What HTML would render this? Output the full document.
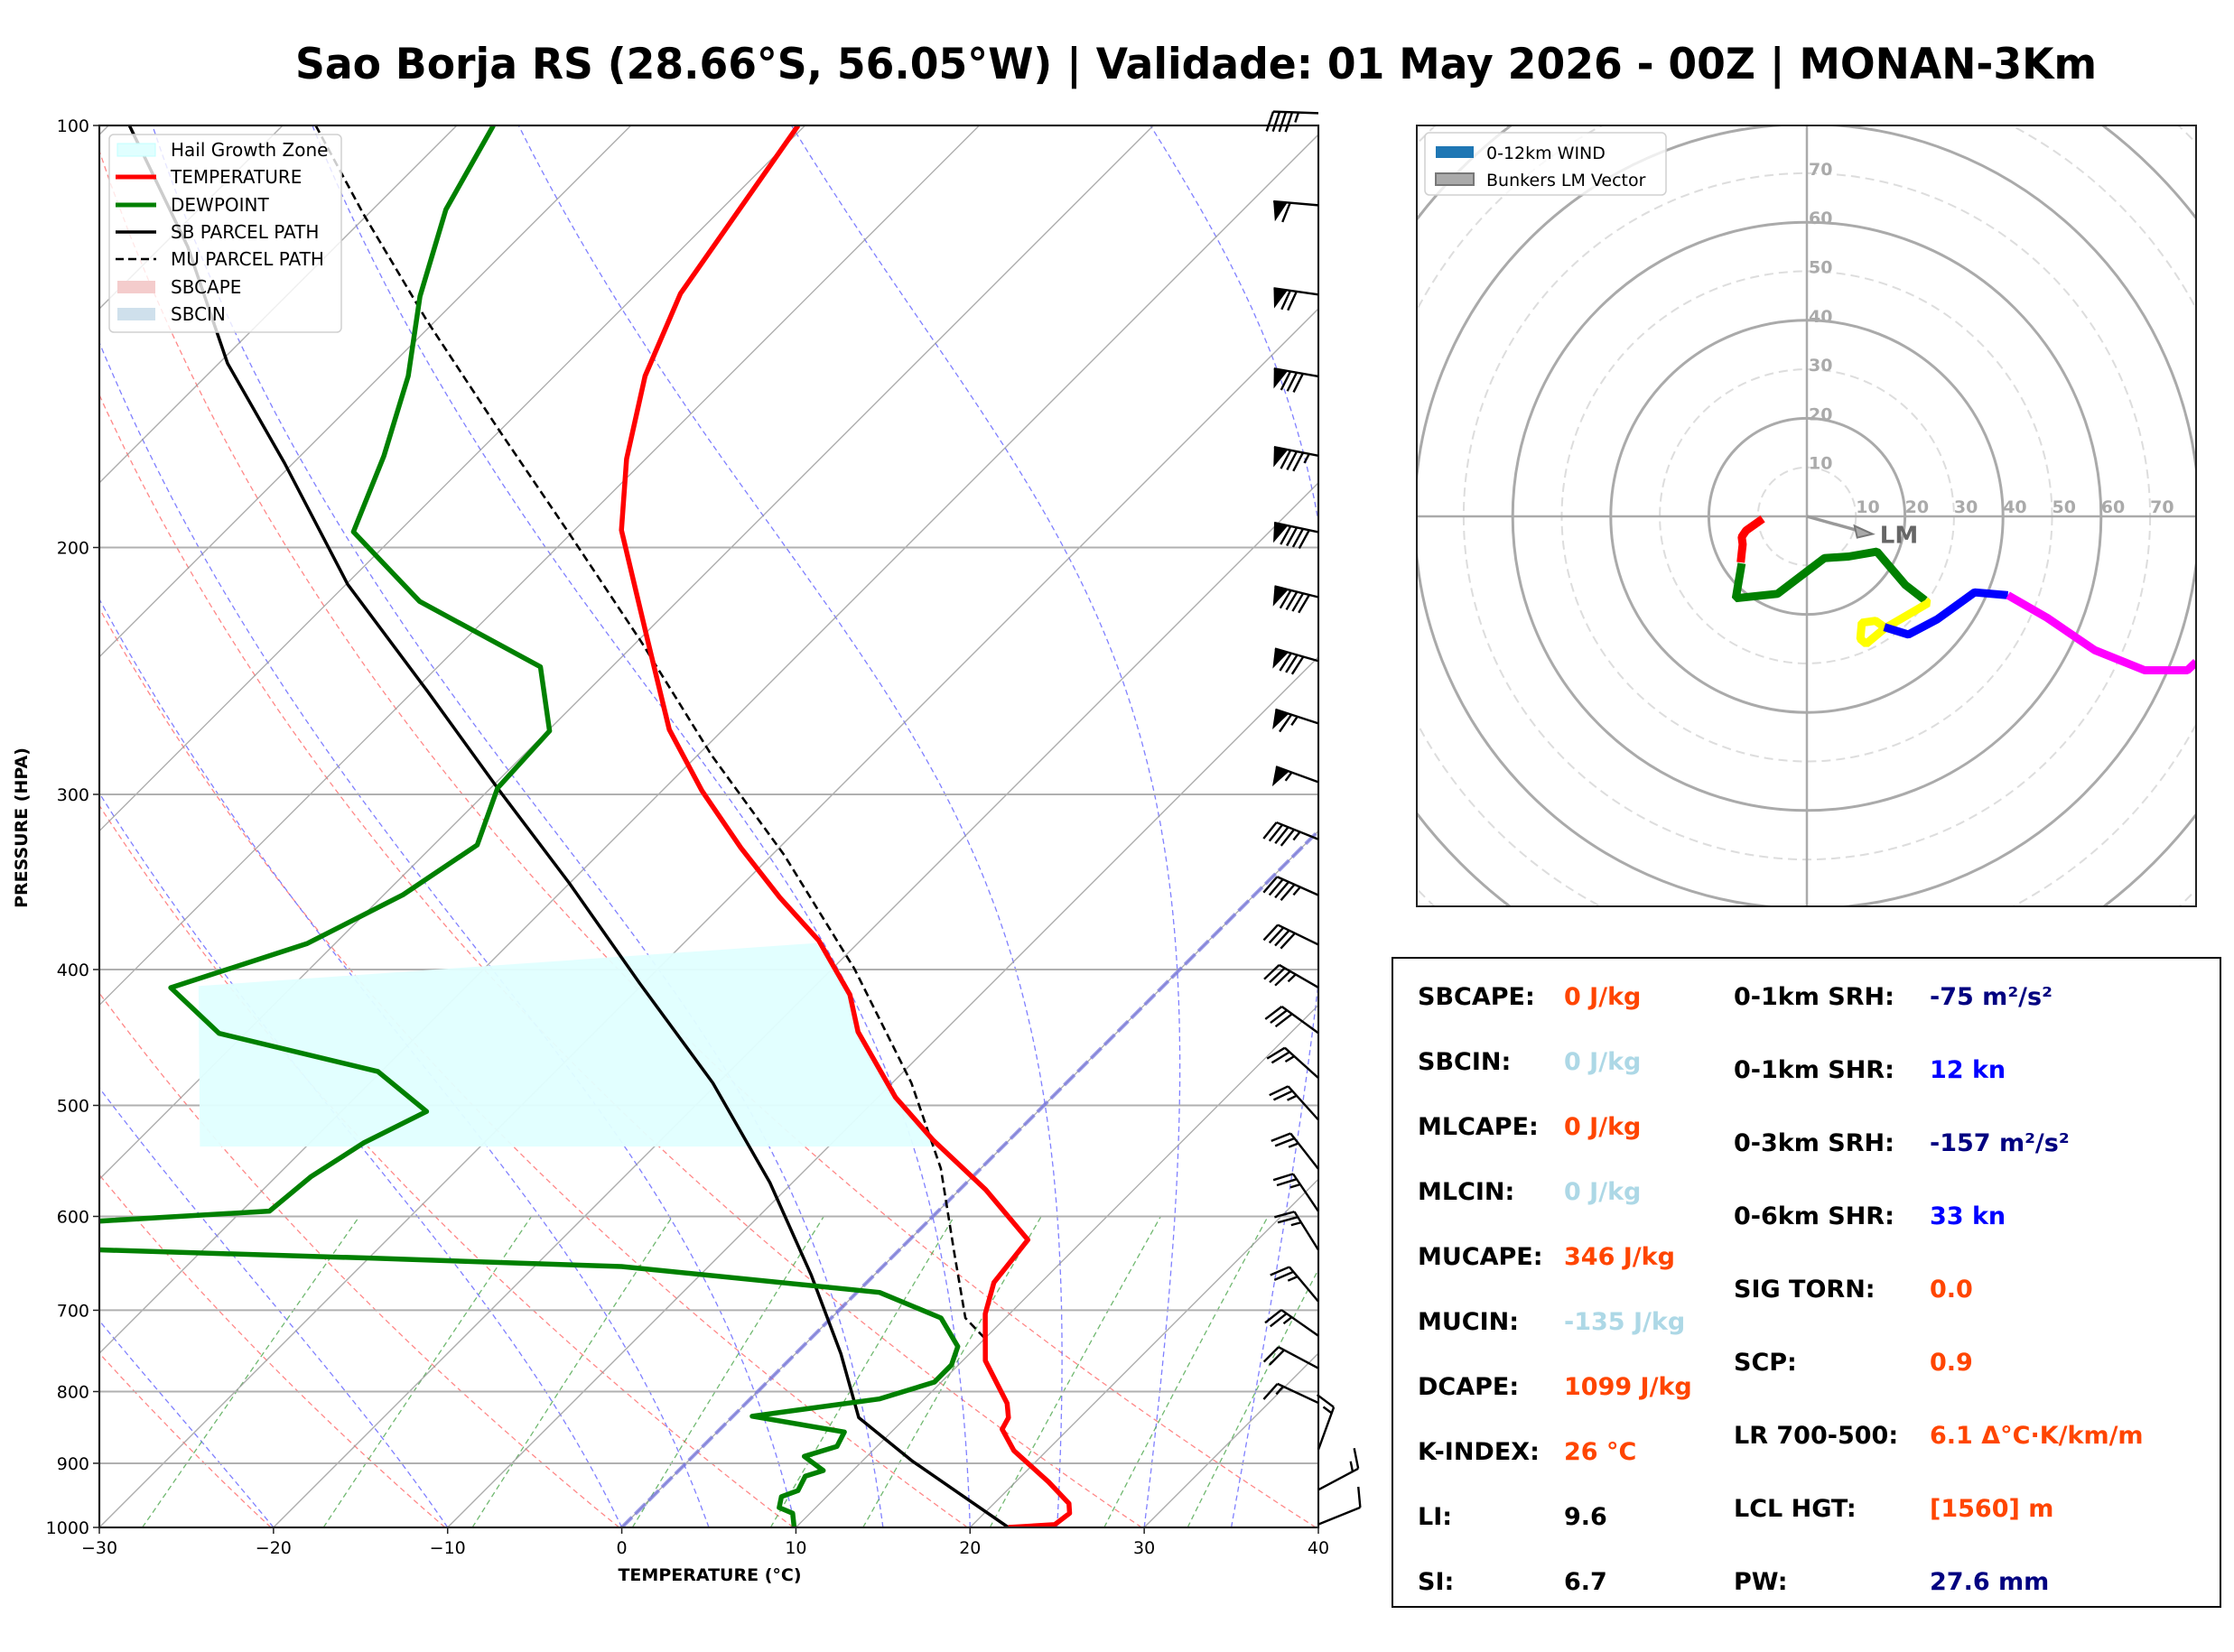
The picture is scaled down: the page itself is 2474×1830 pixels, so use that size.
<!DOCTYPE html>
<html><head><meta charset="utf-8"><style>
html,body{margin:0;padding:0;background:#fff;}
svg{display:block;font-family:"DejaVu Sans","Liberation Sans",sans-serif;}
</style></head><body>
<svg id="fig" xmlns="http://www.w3.org/2000/svg" width="2474" height="1830" viewBox="0 0 2474 1830">
<rect width="2474" height="1830" fill="#fff"/>
<text x="327" y="87" font-size="47" font-weight="bold" textLength="1995" lengthAdjust="spacingAndGlyphs">Sao Borja RS (28.66°S, 56.05°W) | Validade: 01 May 2026 - 00Z | MONAN-3Km</text>
<defs>
<clipPath id="skewClip"><rect x="110" y="139" width="1350" height="1553"/></clipPath>
<clipPath id="hodoClip"><rect x="1569" y="139" width="863" height="865"/></clipPath>
</defs>
<g id="skewBg" clip-path="url(#skewClip)"></g>
<g id="skewData" clip-path="url(#skewClip)"></g>
<g id="skewAxes"></g>
<g id="barbs"></g>
<g id="hodoBg" clip-path="url(#hodoClip)"></g>
<g id="hodoData" clip-path="url(#hodoClip)"></g>
<rect x="1569" y="139" width="863" height="865" fill="none" stroke="#222" stroke-width="2"/>

<g>
<rect x="121" y="149" width="257" height="219" rx="5" fill="#fff" fill-opacity="0.8" stroke="#d0d0d0" stroke-width="1.5"/>
<rect x="130" y="159" width="42" height="14" fill="#e0ffff" stroke="#c0ffff"/>
<text x="189" y="173" font-size="20">Hail Growth Zone</text>
<line x1="128" y1="196" x2="173" y2="196" stroke="red" stroke-width="5"/>
<text x="189" y="203" font-size="20">TEMPERATURE</text>
<line x1="128" y1="227" x2="173" y2="227" stroke="green" stroke-width="5"/>
<text x="189" y="234" font-size="20">DEWPOINT</text>
<line x1="128" y1="257" x2="173" y2="257" stroke="#000" stroke-width="3.5"/>
<text x="189" y="264" font-size="20">SB PARCEL PATH</text>
<line x1="128" y1="287" x2="173" y2="287" stroke="#000" stroke-width="2.5" stroke-dasharray="9,5"/>
<text x="189" y="294" font-size="20">MU PARCEL PATH</text>
<rect x="130" y="311" width="42" height="14" fill="#f4cccc"/>
<text x="189" y="325" font-size="20">SBCAPE</text>
<rect x="130" y="341" width="42" height="14" fill="#cfe0ec"/>
<text x="189" y="355" font-size="20">SBCIN</text>
</g>

<g>
<rect x="1578" y="147" width="267" height="69" rx="5" fill="#fff" fill-opacity="0.8" stroke="#d0d0d0" stroke-width="1.5"/>
<rect x="1590" y="162" width="42" height="13" fill="#1f77b4"/>
<text x="1646" y="176" font-size="19">0-12km WIND</text>
<rect x="1590" y="192" width="42" height="13" fill="#aaa" stroke="#777" stroke-width="2"/>
<text x="1646" y="206" font-size="19">Bunkers LM Vector</text>
</g>

<g font-size="27" font-weight="bold">
<rect x="1542" y="1061" width="917" height="719" fill="#fff" stroke="#000" stroke-width="2"/>
<text x="1570" y="1113">SBCAPE:</text><text x="1732" y="1113" fill="#ff4500">0 J/kg</text>
<text x="1570" y="1185">SBCIN:</text><text x="1732" y="1185" fill="#add8e6">0 J/kg</text>
<text x="1570" y="1257">MLCAPE:</text><text x="1732" y="1257" fill="#ff4500">0 J/kg</text>
<text x="1570" y="1329">MLCIN:</text><text x="1732" y="1329" fill="#add8e6">0 J/kg</text>
<text x="1570" y="1401">MUCAPE:</text><text x="1732" y="1401" fill="#ff4500">346 J/kg</text>
<text x="1570" y="1473">MUCIN:</text><text x="1732" y="1473" fill="#add8e6">-135 J/kg</text>
<text x="1570" y="1545">DCAPE:</text><text x="1732" y="1545" fill="#ff4500">1099 J/kg</text>
<text x="1570" y="1617">K-INDEX:</text><text x="1732" y="1617" fill="#ff4500">26 °C</text>
<text x="1570" y="1689">LI:</text><text x="1732" y="1689">9.6</text>
<text x="1570" y="1761">SI:</text><text x="1732" y="1761">6.7</text>
<text x="1920" y="1113">0-1km SRH:</text><text x="2137" y="1113" fill="#000080">-75 m²/s²</text>
<text x="1920" y="1194">0-1km SHR:</text><text x="2137" y="1194" fill="#0000ff">12 kn</text>
<text x="1920" y="1275">0-3km SRH:</text><text x="2137" y="1275" fill="#000080">-157 m²/s²</text>
<text x="1920" y="1356">0-6km SHR:</text><text x="2137" y="1356" fill="#0000ff">33 kn</text>
<text x="1920" y="1437">SIG TORN:</text><text x="2137" y="1437" fill="#ff4500">0.0</text>
<text x="1920" y="1518">SCP:</text><text x="2137" y="1518" fill="#ff4500">0.9</text>
<text x="1920" y="1599">LR 700-500:</text><text x="2137" y="1599" fill="#ff4500">6.1 Δ°C·K/km/m</text>
<text x="1920" y="1680">LCL HGT:</text><text x="2137" y="1680" fill="#ff4500">[1560] m</text>
<text x="1920" y="1761">PW:</text><text x="2137" y="1761" fill="#000080">27.6 mm</text>
</g>
</svg>
<script>
// ---- data ----
const tempP=[100,131.8,150.9,172.9,194.4,233.3,269.7,298.3,327.5,355.4,381.4,416.9,443.1,493.3,529.1,574.3,623.5,641.2,668.8,704.1,760.5,815.6,835,851,881.4,928.1,961.4,977,995.4,1000];
const tempT=[-70.4,-67.5,-64.8,-61.1,-57.3,-49.4,-43.1,-37.7,-32.2,-27.1,-22.4,-17.5,-14.9,-9.0,-4.4,1.5,6.8,7.0,7.3,8.6,11.3,15.0,15.9,16.2,18.1,21.9,24.3,24.9,24.7,22.2];
const dewP=[100,114.8,132.4,150.9,172.1,194.9,218.5,243.3,270.3,296.9,326,353.8,383.2,412.1,444.2,472.9,505,531.6,562.3,594.8,604.7,618,633.9,642.7,651.5,679.8,708.9,742.9,765.8,787.6,809.8,833,854.9,875.3,889.8,910.8,919.4,941.3,950.7,967.9,977,1000];
const dewT=[-87.9,-85.8,-82.3,-78.4,-75.2,-72.6,-64.8,-54.1,-49.9,-49.6,-47.5,-48.9,-51.6,-56.9,-51.5,-40.2,-35.1,-36.9,-38.0,-38.4,-47.6,-80,-46.0,-29.7,-15.0,1.3,6.3,8.9,9.6,9.6,7.4,1.1,7.3,7.7,6.4,8.3,7.6,8.0,7.4,7.9,9.0,9.9];
const sbP=[100,122,147.8,174.1,212.5,253.2,296.9,347.2,409.3,481.9,567.6,660.9,751.7,835,896,1000];
const sbT=[-108.8,-98.5,-89.5,-80.5,-69.9,-59.2,-49.6,-40.0,-30.2,-20.3,-11.3,-3.6,2.6,7.3,12.8,22.2];
const muP=[100,115.6,137.8,164.3,195.8,233.3,281.3,331.4,399.7,481.9,554.5,638.2,708.9,734.3];
const muT=[-98.1,-90.3,-80.5,-70.3,-60.0,-49.8,-39.2,-29.3,-18.7,-8.9,-2.3,3.4,7.7,10.1];
const hgzTopLeftP=411, hgzTopRightP=383, hgzBottomP=535, hgzLeftT=[-55.4,-46.1];
const pTicks=[100,200,300,400,500,600,700,800,900,1000];
const tTicks=[-30,-20,-10,0,10,20,30,40];
const windP=[98,114,132,151,172,195,217,241,267,294,323,354,384,412,444,478,512,555,595,634,690,730,770,815,880,940,995];
const windDir=[272,275,278,280,281,282,284,286,288,290,292,294,296,300,306,312,318,322,326,328,320,305,298,295,20,62,68];
const windSpd=[45,60,70,80,85,90,90,80,65,55,45,45,40,35,30,25,25,25,25,25,25,25,20,15,15,15,10];
const hodoRedU=[-9.0,-12.4,-13.3,-13.1,-13.3,-13.5], hodoRedV=[-0.5,-2.9,-4.2,-5.7,-7.5,-9.4];
const hodoGreenU=[-13.3,-14.5,-6.0,3.6,8.5,14.3,20.1,24.1], hodoGreenV=[-9.6,-16.7,-15.8,-8.5,-8.2,-7.2,-14.0,-17.1];
const hodoYellowU=[24.1,24.7,15.8,12.1,10.9,11.2,14.0,15.8], hodoYellowV=[-17.1,-17.7,-22.9,-26.0,-25.0,-21.7,-21.3,-22.6];
const hodoBlueU=[15.8,20.7,26.6,34.2,41.0], hodoBlueV=[-22.6,-24.1,-21.0,-15.5,-16.1];
const hodoMagU=[41.0,49.0,58.7,68.9,77.6,79.4], hodoMagV=[-16.1,-20.7,-27.3,-31.4,-31.4,-29.7];
const lmU=13.4, lmV=-3.6;
const hodoRingLabels=[10,20,30,40,50,60,70];

// ---- axes ----
const L=110,R=1460,TOP=139,B=1692,PPD=1350/70;
function yP(p){return TOP+(B-TOP)*Math.log10(p/100);}
function xT(t,p){return L+(t+30)*PPD+(B-yP(p));}
const HX=2001,HY=572,HS=5.43;
function hx(u){return HX+u*HS;} function hy(v){return HY-v*HS;}
const NS='http://www.w3.org/2000/svg';
function mk(tag,attrs,parent){const e=document.createElementNS(NS,tag);for(const k in attrs)e.setAttribute(k,attrs[k]);parent.appendChild(e);return e;}
function pathTP(ts,ps){return ts.map((t,i)=>(i?'L':'M')+xT(t,ps[i]).toFixed(1)+','+yP(ps[i]).toFixed(1)).join('');}

const bg=document.getElementById('skewBg');
// dry adiabats
for(let th=213;th<=313;th+=10){let d='';for(let p=1000;p>=100;p-=10){const t=th*Math.pow(p/1000,0.2857)-273.15;d+=(p===1000?'M':'L')+xT(t,p).toFixed(1)+','+yP(p).toFixed(1);}
const e=mk('path',{d:d,fill:'none',stroke:'#ff6060','stroke-width':1.3,'stroke-dasharray':'6,4','stroke-opacity':0.75},bg);

}
// moist adiabats
function es(t){return 6.112*Math.exp(17.67*t/(t+243.5));}
[-30,-20,-10,0,5,10,15,20,25,30,35,40].forEach(t0=>{let T=t0+273.15,d='';for(let p=1000;p>=100;p-=5){
 d+=(p===1000?'M':'L')+xT(T-273.15,p).toFixed(1)+','+yP(p).toFixed(1);
 const rs=0.622*es(T-273.15)/(p-es(T-273.15));const Lv=2.5e6,Rd=287,cp=1004;
 const dTdp=(1/p)*(Rd*T+Lv*rs)/(cp+Lv*Lv*rs*0.622/(Rd*T*T));T-=dTdp*5;}
const e=mk('path',{d:d,fill:'none',stroke:'#6060ff','stroke-width':1.3,'stroke-dasharray':'6,4','stroke-opacity':0.8},bg);

});
// mixing ratio
[0.4,1,2,4,7,10,16,24,32].forEach(w=>{let d='';for(let p=1000;p>=600;p-=20){const e_=p*w/(622+w);const lg=Math.log(e_/6.112);const td=243.5*lg/(17.67-lg);d+=(p===1000?'M':'L')+xT(td,p).toFixed(1)+','+yP(p).toFixed(1);}
const e=mk('path',{d:d,fill:'none',stroke:'#40a040','stroke-width':1.3,'stroke-dasharray':'6,4','stroke-opacity':0.75},bg);

});
// isotherms
for(let t=-130;t<=40;t+=10){const e=mk('line',{x1:xT(t,1000),y1:yP(1000),x2:xT(t,100),y2:yP(100),stroke:'#999','stroke-width':1.4,'stroke-opacity':0.8},bg);

}
// pressure grid
pTicks.forEach(p=>{const e=mk('line',{x1:L,y1:yP(p),x2:R,y2:yP(p),stroke:'#b0b0b0','stroke-width':2},bg);

});
// freezing line
{const e=mk('line',{x1:xT(0,1000),y1:yP(1000),x2:xT(0,100),y2:yP(100),stroke:'#7070e0','stroke-width':4,'stroke-dasharray':'16,5','stroke-opacity':0.7},bg);

}

const sd=document.getElementById('skewData');
// hail growth zone
{let d='M'+xT(hgzLeftT[0],hgzTopLeftP)+','+yP(hgzTopLeftP);
 d+='L'+xT(tempT[10],hgzTopRightP)+','+yP(hgzTopRightP);
 tempP.forEach((p,i)=>{if(p>hgzTopRightP&&p<hgzBottomP)d+='L'+xT(tempT[i],p)+','+yP(p);});
 d+='L'+xT(-4.2,hgzBottomP)+','+yP(hgzBottomP)+'L'+xT(hgzLeftT[1],hgzBottomP)+','+yP(hgzBottomP)+'Z';
 const e=mk('path',{d:d,fill:'#e0ffff','fill-opacity':0.95},sd);
 
 }
{const e=mk('path',{d:pathTP(muT,muP),fill:'none',stroke:'#000','stroke-width':2.6,'stroke-dasharray':'9,5'},sd);

}
{const e=mk('path',{d:pathTP(sbT,sbP),fill:'none',stroke:'#000','stroke-width':3.5,'stroke-linejoin':'round'},sd);

}
{const e=mk('path',{d:pathTP(dewT,dewP),fill:'none',stroke:'green','stroke-width':5.5,'stroke-linejoin':'round'},sd);

}
{const e=mk('path',{d:pathTP(tempT,tempP),fill:'none',stroke:'red','stroke-width':5.5,'stroke-linejoin':'round'},sd);

}

// axes frame, ticks
const ax=document.getElementById('skewAxes');
{const e=mk('rect',{x:L,y:TOP,width:R-L,height:B-TOP,fill:'none',stroke:'#222','stroke-width':2.2},ax);

}
pTicks.forEach(p=>{const y=yP(p);mk('line',{x1:L-7,y1:y,x2:L,y2:y,stroke:'#222','stroke-width':1.5},ax);
const t=mk('text',{x:L-11,y:y+7,'font-size':19,'text-anchor':'end'},ax);t.textContent=p;

});
tTicks.forEach(tv=>{const x=L+(tv+30)*PPD;mk('line',{x1:x,y1:B,x2:x,y2:B+7,stroke:'#222','stroke-width':1.5},ax);
const t=mk('text',{x:x,y:B+29,'font-size':19,'text-anchor':'middle'},ax);t.textContent=(tv<0?'\u2212'+(-tv):tv);

});
{const t=mk('text',{x:786,y:1751,'font-size':19,'font-weight':'bold','text-anchor':'middle'},ax);t.textContent='TEMPERATURE (°C)';

}
{const t=mk('text',{x:0,y:0,'font-size':19,'font-weight':'bold','text-anchor':'middle',transform:'translate(30,917) rotate(-90)'},ax);t.textContent='PRESSURE (HPA)';

}

// wind barbs
const bb=document.getElementById('barbs');
windP.forEach((p,i)=>{const bx=R,by=yP(p);const a=windDir[i]*Math.PI/180;const dx=Math.sin(a),dy=-Math.cos(a);const nx=dy,ny=-dx;
const Ls=50,bl=22,fw=12,sp=7;const tx=bx+dx*Ls,ty=by+dy*Ls;const g=mk('g',{},bb);


mk('line',{x1:bx,y1:by,x2:tx,y2:ty,stroke:'#000','stroke-width':2.4},g);
let s=windSpd[i],pos=0;
while(s>=50){const x0=tx-dx*pos,y0=ty-dy*pos;mk('polygon',{points:`${x0},${y0} ${x0+nx*bl-dx*fw*0.3},${y0+ny*bl-dy*fw*0.3} ${x0-dx*fw*1.3},${y0-dy*fw*1.3}`,fill:'#000'},g);pos+=fw*1.3+3;s-=50;}
while(s>=10){const x0=tx-dx*pos,y0=ty-dy*pos;mk('line',{x1:x0,y1:y0,x2:x0+nx*bl+dx*bl*0.3,y2:y0+ny*bl+dy*bl*0.3,stroke:'#000','stroke-width':2.4},g);pos+=sp;s-=10;}
if(s>=5){if(pos===0)pos=sp;const x0=tx-dx*pos,y0=ty-dy*pos;mk('line',{x1:x0,y1:y0,x2:x0+nx*bl*0.5+dx*bl*0.15,y2:y0+ny*bl*0.5+dy*bl*0.15,stroke:'#000','stroke-width':2.4},g);}
});

// hodograph background
const hb=document.getElementById('hodoBg');
for(let r=10;r<=120;r+=10){const solid=(r%20===0);const e=mk('circle',{cx:HX,cy:HY,r:r*HS,fill:'none',stroke:solid?'#aaa':'#ddd','stroke-width':solid?3:2,'stroke-dasharray':solid?'none':'10,6'},hb);

}
mk('line',{x1:1569,y1:HY,x2:2432,y2:HY,stroke:'#aaa','stroke-width':2.5},hb);
mk('line',{x1:HX,y1:139,x2:HX,y2:1004,stroke:'#aaa','stroke-width':2.5},hb);
hodoRingLabels.forEach(r=>{const t1=mk('text',{x:HX+r*HS,y:HY-4,'font-size':19,'font-weight':'bold',fill:'#aaa'},hb);t1.textContent=r;


const t2=mk('text',{x:HX+2,y:HY-r*HS+2,'font-size':19,'font-weight':'bold',fill:'#aaa'},hb);t2.textContent=r;

});
const hd=document.getElementById('hodoData');
{const e=mk('line',{x1:HX,y1:HY,x2:hx(lmU)-6,y2:hy(lmV)-1,stroke:'#999','stroke-width':3.5},hd);


const ax_=hx(lmU),ay_=hy(lmV);const h=mk('polygon',{points:`${ax_},${ay_} ${ax_-20},${ay_-9} ${ax_-17},${ay_+4}`,fill:'#aaa',stroke:'#777','stroke-width':2},hd);


const t=mk('text',{x:ax_+8,y:ay_+10,'font-size':26,'font-weight':'bold',fill:'#666'},hd);t.textContent='LM';

}
function hodoSeg(us,vs,color,name){const d=us.map((u,i)=>(i?'L':'M')+hx(u).toFixed(1)+','+hy(vs[i]).toFixed(1)).join('');
const e=mk('path',{d:d,fill:'none',stroke:color,'stroke-width':9,'stroke-linejoin':'bevel'},hd);

}
hodoSeg(hodoRedU,hodoRedV,'red','hodo-segment-0-1km');
hodoSeg(hodoGreenU,hodoGreenV,'green','hodo-segment-1-3km');
hodoSeg(hodoYellowU,hodoYellowV,'yellow','hodo-segment-3-6km');
hodoSeg(hodoBlueU,hodoBlueV,'blue','hodo-segment-6-9km');
hodoSeg(hodoMagU,hodoMagV,'magenta','hodo-segment-9-12km');
</script>
</body></html>
